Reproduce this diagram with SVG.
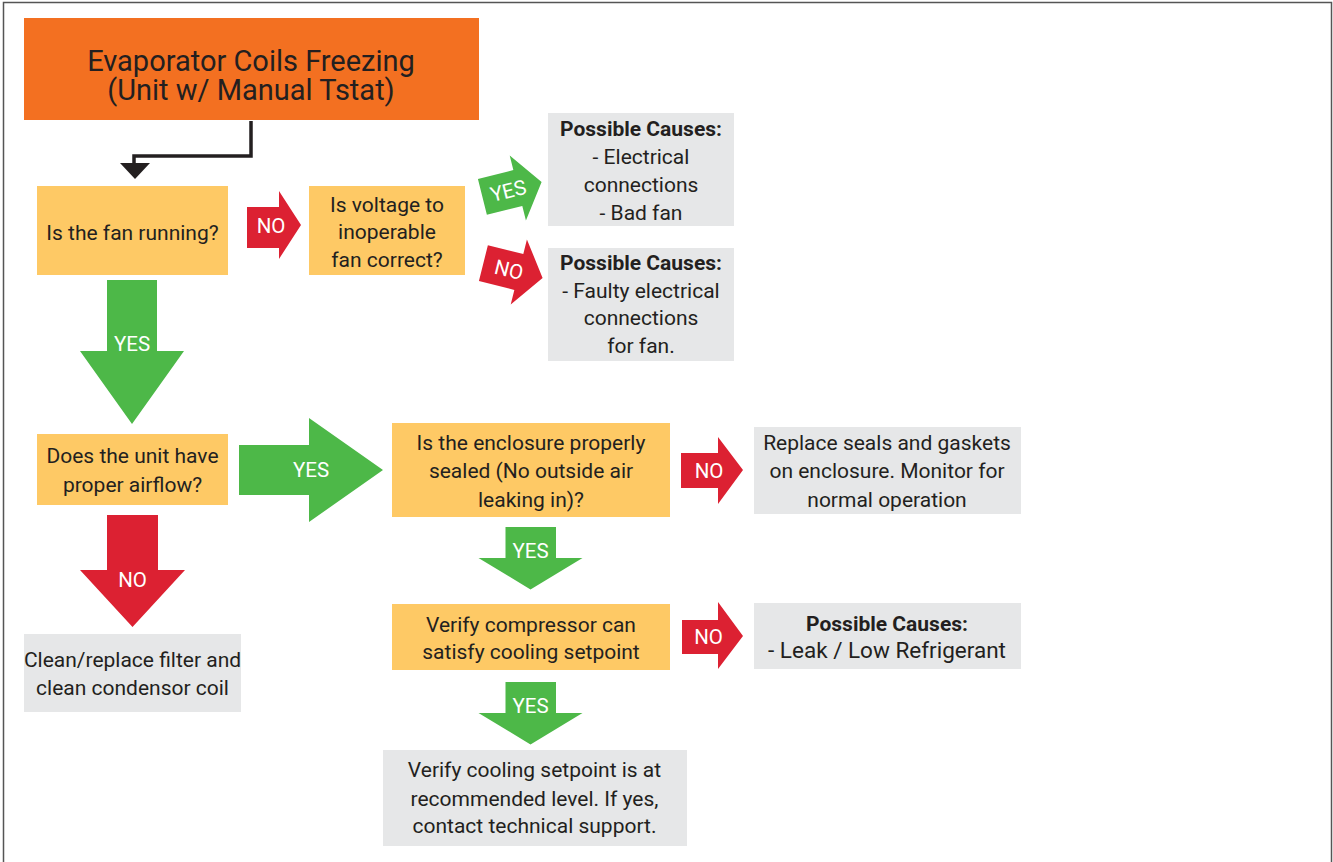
<svg xmlns="http://www.w3.org/2000/svg" width="1333" height="862" viewBox="0 0 1333 862">
<style>
.t{font-family:Roboto,"Liberation Sans",sans-serif;font-size:21px;fill:#231F20;text-anchor:middle}
.b{font-weight:bold}
.title{font-family:Roboto,"Liberation Sans",sans-serif;font-size:29px;fill:#231F20;text-anchor:middle}
.lbl{font-family:Roboto,"Liberation Sans",sans-serif;font-size:20.5px;fill:#FFFFFF;text-anchor:middle}
.q{fill:#FEC965}
.g{fill:#E6E7E8}
.ag{fill:#4DB848}
.ar{fill:#DC2132}
</style>
<rect x="3.5" y="2.5" width="1328" height="875" fill="#FFFFFF" stroke="#555555" stroke-width="1.5"/>

<g id="title">
<rect x="24" y="18" width="455" height="102" fill="#F37021"/>
<text class="title" x="251" y="70.5">Evaporator Coils Freezing</text>
<text class="title" x="251" y="99.5">(Unit w/ Manual Tstat)</text>
</g>

<g id="connectors">
<polyline points="251,121 251,156 134,156 134,166" fill="none" stroke="#231F20" stroke-width="3.5"/>
<polygon points="120,163 150,163 135,179" fill="#231F20"/>
</g>

<g id="q-fan">
<rect class="q" x="37" y="186" width="191" height="89"/>
<text class="t" x="132.5" y="239.5">Is the fan running?</text>
</g>

<g id="arrow-no-1">
<polygon class="ar" points="247,207 279,207 279,191 301,225 279,259 279,248 247,248"/>
<text class="lbl" x="271" y="232.5">NO</text>
</g>

<g id="q-voltage">
<rect class="q" x="309" y="186" width="156" height="89"/>
<text class="t" x="387" y="211.5">Is voltage to</text>
<text class="t" x="387" y="239.3">inoperable</text>
<text class="t" x="387" y="266.7">fan correct?</text>
</g>

<g id="arrow-yes-tilt" transform="translate(512,189.5) rotate(-14)">
<polygon class="ag" points="-30.5,-18.5 6,-18.5 6,-33.5 30.5,0 6,33.5 6,18.5 -30.5,18.5"/>
<text class="lbl" x="-4" y="7.5">YES</text>
</g>

<g id="arrow-no-tilt" transform="translate(513,270.5) rotate(14)">
<polygon class="ar" points="-30.5,-18.5 6,-18.5 6,-33.5 30.5,0 6,33.5 6,18.5 -30.5,18.5"/>
<text class="lbl" x="-4" y="7.5">NO</text>
</g>

<g id="causes-1">
<rect class="g" x="548" y="113" width="186" height="113"/>
<text class="t b" x="641" y="136">Possible Causes:</text>
<text class="t" x="641" y="164">- Electrical</text>
<text class="t" x="641" y="192">connections</text>
<text class="t" x="641" y="220">- Bad fan</text>
</g>

<g id="causes-2">
<rect class="g" x="548" y="248" width="186" height="113"/>
<text class="t b" x="641" y="270">Possible Causes:</text>
<text class="t" x="641" y="297.5">- Faulty electrical</text>
<text class="t" x="641" y="325.3">connections</text>
<text class="t" x="641" y="352.5">for fan.</text>
</g>

<g id="arrow-yes-down-1">
<polygon class="ag" points="107,280 157,280 157,351 184,351 132,424 80,351 107,351"/>
<text class="lbl" x="132" y="350.5">YES</text>
</g>

<g id="q-airflow">
<rect class="q" x="37" y="434" width="191" height="71"/>
<text class="t" x="132.5" y="463.3">Does the unit have</text>
<text class="t" x="132.5" y="491.7">proper airflow?</text>
</g>

<g id="arrow-yes-right">
<polygon class="ag" points="239,445 309,445 309,418 383,470 309,522 309,495 239,495"/>
<text class="lbl" x="311" y="477">YES</text>
</g>

<g id="arrow-no-down">
<polygon class="ar" points="107,515 158,515 158,570 185,570 132.5,627 80,570 107,570"/>
<text class="lbl" x="132.5" y="587">NO</text>
</g>

<g id="clean-filter">
<rect class="g" x="24" y="634" width="217" height="78"/>
<text class="t" x="132.5" y="667.3">Clean/replace filter and</text>
<text class="t" x="132.5" y="695">clean condensor coil</text>
</g>

<g id="q-enclosure">
<rect class="q" x="392" y="423" width="278" height="94"/>
<text class="t" x="531" y="450">Is the enclosure properly</text>
<text class="t" x="531" y="478.3">sealed (No outside air</text>
<text class="t" x="531" y="506.7">leaking in)?</text>
</g>

<g id="arrow-no-2">
<polygon class="ar" points="681,453 718,453 718,437 743,470 718,504 718,488 681,488"/>
<text class="lbl" x="709" y="478">NO</text>
</g>

<g id="replace-seals">
<rect class="g" x="754" y="427" width="267" height="87"/>
<text class="t" x="887" y="450">Replace seals and gaskets</text>
<text class="t" x="887" y="478">on enclosure. Monitor for</text>
<text class="t" x="887" y="506.5">normal operation</text>
</g>

<g id="arrow-yes-down-2">
<polygon class="ag" points="505.5,527 556,527 556,558 582.5,558 530.5,589.5 478.5,558 505.5,558"/>
<text class="lbl" x="530.5" y="558.3">YES</text>
</g>

<g id="q-compressor">
<rect class="q" x="392" y="604" width="278" height="66"/>
<text class="t" x="531" y="631.7">Verify compressor can</text>
<text class="t" x="531" y="659.3">satisfy cooling setpoint</text>
</g>

<g id="arrow-no-3">
<polygon class="ar" points="682,620 718,620 718,602 743,636 718,669 718,654 682,654"/>
<text class="lbl" x="708.5" y="643.5">NO</text>
</g>

<g id="causes-3">
<rect class="g" x="754" y="603" width="267" height="66"/>
<text class="t b" x="887" y="630.7">Possible Causes:</text>
<text class="t" x="887" y="658.3" style="font-size:22.5px">- Leak / Low Refrigerant</text>
</g>

<g id="arrow-yes-down-3">
<polygon class="ag" points="505.5,682 556,682 556,713 582.5,713 530.5,744.5 478.5,713 505.5,713"/>
<text class="lbl" x="530.5" y="712.5">YES</text>
</g>

<g id="verify-setpoint">
<rect class="g" x="383" y="750" width="304" height="96"/>
<text class="t" x="534.5" y="777.3">Verify cooling setpoint is at</text>
<text class="t" x="534.5" y="805.7">recommended level. If yes,</text>
<text class="t" x="534.5" y="833.3">contact technical support.</text>
</g>
</svg>
